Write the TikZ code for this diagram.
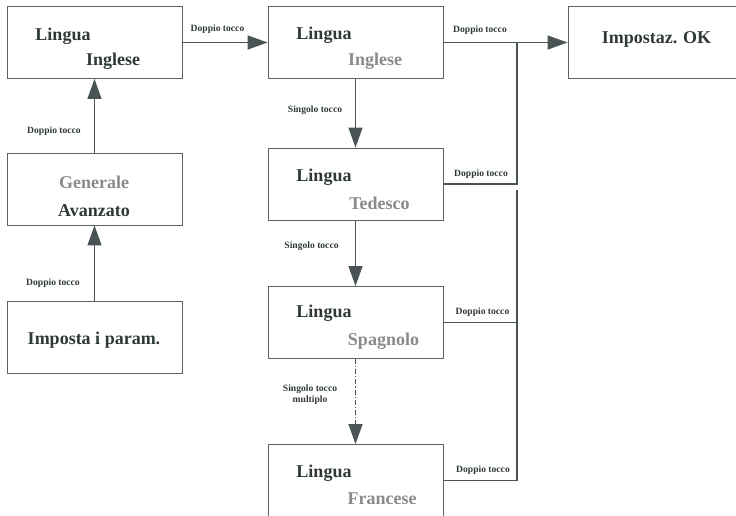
\documentclass[tikz,border=0pt]{standalone}
\usepackage{fontspec}
\setmainfont{Liberation Serif}
\usetikzlibrary{arrows.meta}
\definecolor{boxc}{HTML}{5A6262}
\definecolor{linec}{HTML}{4A5454}
\definecolor{darkt}{HTML}{2F3838}
\definecolor{greyt}{HTML}{8A8A8A}
\begin{document}
\begin{tikzpicture}[x=1pt,y=-1pt,
  box/.style={draw=boxc,line width=0.9pt,minimum width=175pt,minimum height=72pt,inner sep=0pt},
  big/.style={font=\fontsize{18}{20}\selectfont\bfseries,text=darkt,inner sep=0pt},
  bigg/.style={font=\fontsize{18}{20}\selectfont\bfseries,text=greyt,inner sep=0pt},
  lbl/.style={font=\fontsize{9.6}{11}\selectfont\bfseries,text=darkt,inner sep=0pt,align=center},
  conn/.style={draw=linec,line width=1.3pt},
  arr/.style={conn,-{Triangle[length=20pt,width=14pt]}}]
\useasboundingbox (0,0) rectangle (736,515);
% boxes
\node[box] (A) at (94.5,42.5) {};
\node[box] (B) at (94.5,189) {};
\node[box] (C) at (94.5,337) {};
\node[box] (D) at (355.5,42.5) {};
\node[box] (E) at (355.5,184) {};
\node[box] (F) at (355.5,322.5) {};
\node[box] (G) at (355.5,480.5) {};
\node[box] (H) at (655.5,42.5) {};
% texts
\node[big] (tA1) at (63,36) {Lingua};
\node[big] (tA2) at (113,61) {Inglese};
\node[bigg] (tB1) at (94,182) {Generale};
\node[big] (tB2) at (94,211) {Avanzato};
\node[big] (tC) at (94,340) {Imposta i param.};
\node[big] (tD1) at (324,35) {Lingua};
\node[bigg] (tD2) at (375,61) {Inglese};
\node[big] (tE1) at (324,177) {Lingua};
\node[bigg] (tE2) at (379.5,203) {Tedesco};
\node[big] (tF1) at (324,313) {Lingua};
\node[bigg] (tF2) at (383.5,341) {Spagnolo};
\node[big] (tG1) at (324,473) {Lingua};
\node[bigg] (tG2) at (382,499) {Francese};
\node[big] (tH) at (656.5,39) {Impostaz. OK};
% connectors
\draw[arr] (C.north) -- (B.south);
\draw[arr] (B.north) -- (A.south);
\draw[arr] (A.east) -- (D.east -| D.west);
\draw[arr] (D.south) -- (E.north);
\draw[arr] (E.south) -- (F.north);
\draw[arr,dash pattern=on 5pt off 2pt on 1.2pt off 2pt] (F.south) -- (G.north);
\draw[arr] (D.east) -- (H.west);
\coordinate (j1) at (517,42.5);
\coordinate (j2) at (517,190);
\draw[conn] (E.east) -| (j1);
\draw[conn] (G.east) -| (j2);
\draw[conn] (F.east) -- (F.east -| j2);
% labels
\node[lbl] (l1) at (217.5,29) {Doppio tocco};
\node[lbl] (l2) at (54,131) {Doppio tocco};
\node[lbl] (l3) at (53,283) {Doppio tocco};
\node[lbl] (l4) at (480,30) {Doppio tocco};
\node[lbl] (l5) at (481,174.5) {Doppio tocco};
\node[lbl] (l6) at (482.5,312.5) {Doppio tocco};
\node[lbl] (l7) at (483,470) {Doppio tocco};
\node[lbl] (s1) at (315,110) {Singolo tocco};
\node[lbl] (s2) at (311.5,246.5) {Singolo tocco};
\node[lbl] (s3) at (310,395) {Singolo tocco\\multiplo};
\end{tikzpicture}
\end{document}
